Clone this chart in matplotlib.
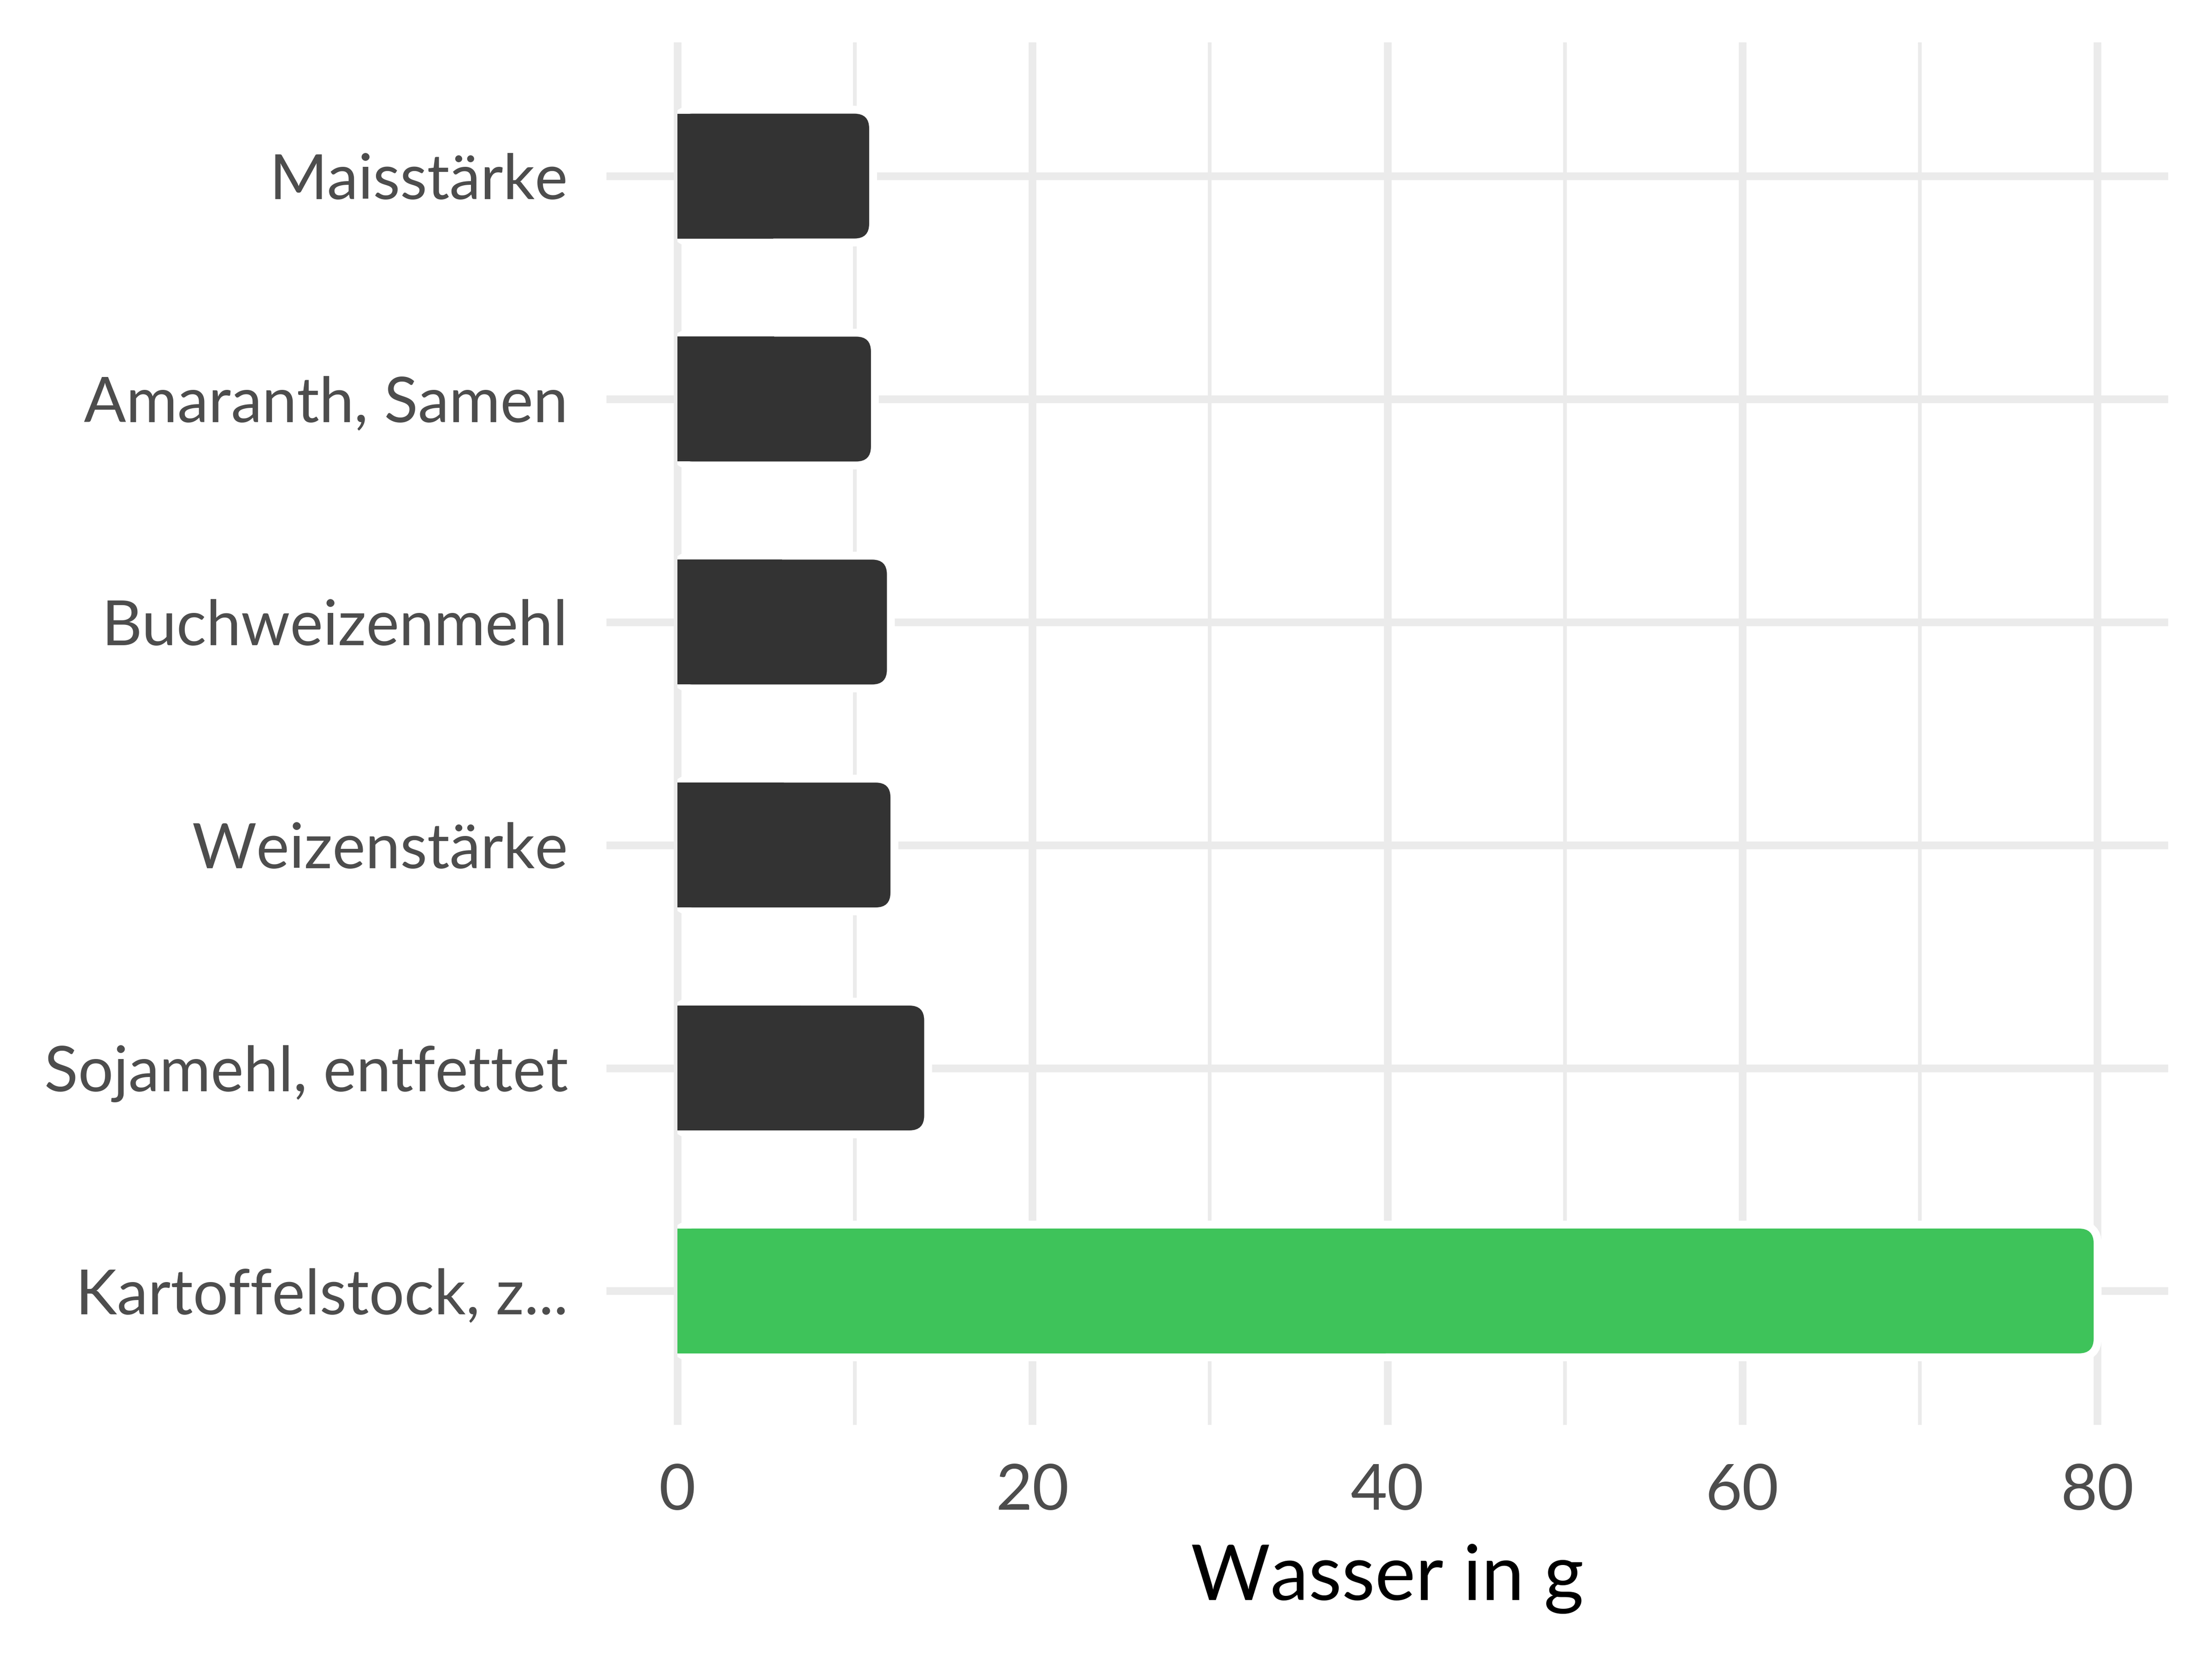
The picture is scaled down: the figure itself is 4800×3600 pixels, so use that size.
import matplotlib
matplotlib.use("Agg")
import matplotlib.pyplot as plt
from matplotlib.patches import FancyBboxPatch, Rectangle

# Wasser (g) je Lebensmittel, von oben nach unten
foods = ["Maisstärke", "Amaranth, Samen", "Buchweizenmehl", "Weizenstärke",
         "Sojamehl, entfettet", "Kartoffelstock, z..."]
water = [10.8, 10.9, 11.8, 12.0, 13.9, 79.8]
bar_colors = ["#333333", "#333333", "#333333", "#333333", "#333333", "#3EC35A"]
x_ticks = [0, 20, 40, 60, 80]
x_minor = [10, 30, 50, 70]

plt.rcParams['font.family'] = ['Lato', 'DejaVu Sans']

fig = plt.figure(figsize=(16, 12), dpi=300)
ax = fig.add_axes([0.2742, 0.1412, 0.706, 0.8333])

xlim = (-4.0, 84.0)
ylim = (0.4, len(foods) + 0.6)
ax.set_xlim(*xlim)
ax.set_ylim(*ylim)

ypos = list(range(len(foods), 0, -1))
bar_h = 0.56

# pixel scale, used to keep corners circular
ax_w = 0.706 * 16 * 300
ax_h = 0.8333 * 12 * 300
px_x = ax_w / (xlim[1] - xlim[0])
px_y = ax_h / (ylim[1] - ylim[0])
aspect = px_x / px_y
radius = 32 / px_x

clip = Rectangle((0, -10), 500, 50, transform=ax.transData)

for y, v, c in zip(ypos, water, bar_colors):
    x0 = 0
    y0 = y - bar_h / 2
    # white outline behind the bar
    outline = FancyBboxPatch((x0, y0), v, bar_h,
                             boxstyle=f"round,pad=0,rounding_size={radius}",
                             mutation_aspect=aspect, facecolor="white",
                             edgecolor="white", linewidth=8.2, zorder=2)
    ax.add_patch(outline)
    outline.set_clip_path(clip)
    fill = FancyBboxPatch((x0, y0), v, bar_h,
                          boxstyle=f"round,pad=0,rounding_size={radius}",
                          mutation_aspect=aspect, facecolor=c,
                          edgecolor="none", linewidth=0, zorder=3)
    ax.add_patch(fill)
    # square left end
    ax.barh(y, v / 2, height=bar_h, left=0, color=c, linewidth=0, zorder=3)

ax.set_yticks(ypos)
ax.set_yticklabels(foods)
ax.set_xticks(x_ticks)
ax.set_xticks(x_minor, minor=True)
ax.set_xticklabels([str(t) for t in x_ticks])

ax.set_axisbelow(True)
ax.grid(which="major", axis="both", color="#EBEBEB", linewidth=4.0, zorder=0)
ax.grid(which="minor", axis="x", color="#EBEBEB", linewidth=1.9, zorder=0)

for s in ax.spines.values():
    s.set_visible(False)
ax.tick_params(axis="y", which="both", length=0, labelsize=32.5,
               labelcolor="#4D4D4D", pad=20)
ax.tick_params(axis="x", which="both", length=0, labelsize=33,
               labelcolor="#4D4D4D", pad=20)

ax.set_xlabel("Wasser in g", fontsize=40, color="black", labelpad=12)

fig.savefig("out.png", dpi=300, facecolor="white")
